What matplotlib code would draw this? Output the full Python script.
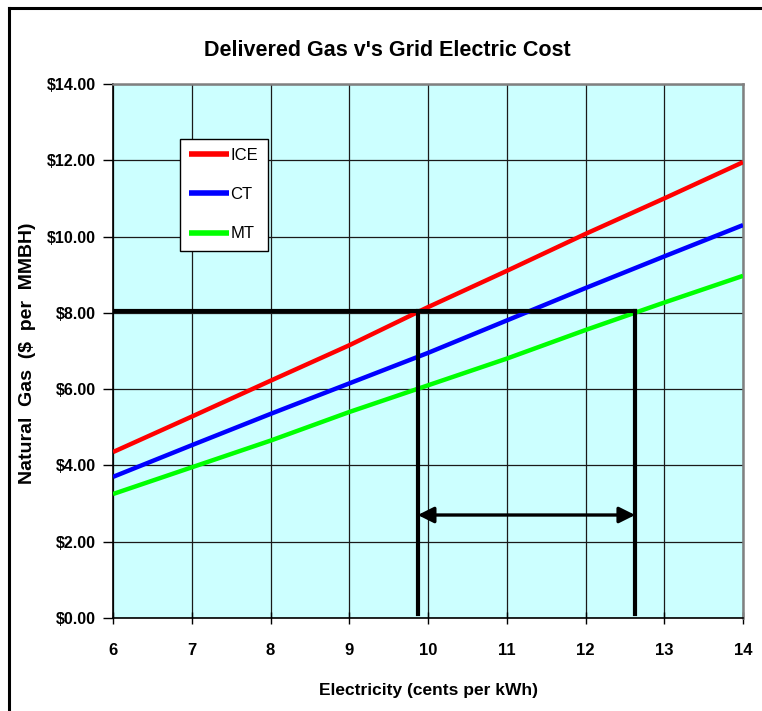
import matplotlib
matplotlib.use("Agg")
import matplotlib.pyplot as plt
from matplotlib.lines import Line2D

# electricity price (cents per kWh)
elec = [6, 7, 8, 9, 10, 11, 12, 13, 14]
# break-even natural gas price ($ per MMBH)
ice = [4.35, 5.28, 6.22, 7.15, 8.15, 9.10, 10.07, 11.00, 11.95]
ct = [3.70, 4.53, 5.35, 6.15, 6.95, 7.80, 8.65, 9.48, 10.30]
mt = [3.25, 3.95, 4.65, 5.40, 6.10, 6.80, 7.55, 8.27, 8.97]

# marked example: gas at $8.05, ICE vs MT break-even points
gas_mark = 8.05
elec_ice = 9.87
elec_mt = 12.63
arrow_y = 2.70

xticks = [6, 7, 8, 9, 10, 11, 12, 13, 14]
yticks = [0, 2, 4, 6, 8, 10, 12, 14]

plt.rcParams["font.family"] = ["Liberation Sans", "DejaVu Sans"]

fig = plt.figure(figsize=(7.62, 7.11), dpi=100)
ax = fig.add_axes([0.1483, 0.1308, 0.8268, 0.7511])
ax.set_facecolor("#CCFFFF")

ax.plot(elec, ice, color="#FF0000", lw=3.2, label="ICE", zorder=3, solid_capstyle="butt")
ax.plot(elec, ct, color="#0000FF", lw=3.2, label="CT", zorder=3, solid_capstyle="butt")
ax.plot(elec, mt, color="#00FF00", lw=3.2, label="MT", zorder=3, solid_capstyle="butt")

# black marker lines
ax.plot([6, elec_mt], [gas_mark, gas_mark], color="black", lw=3, zorder=4)
ax.plot([elec_ice, elec_ice], [0.1, gas_mark], color="black", lw=3, zorder=4)
ax.plot([elec_mt, elec_mt], [0.1, gas_mark], color="black", lw=3, zorder=4)
ax.annotate("", xy=(elec_mt, arrow_y), xytext=(elec_ice, arrow_y),
            arrowprops=dict(arrowstyle="<|-|>", color="black", lw=2.4,
                            mutation_scale=24, shrinkA=0, shrinkB=0), zorder=5)

ax.set_xlim(6, 14)
ax.set_ylim(0, 14)
ax.set_xticks(xticks)
ax.set_yticks(yticks)
ax.set_xticklabels([str(v) for v in xticks], fontsize=12, fontweight="bold")
ax.set_yticklabels(["${:.2f}".format(v) for v in yticks], fontsize=11.5, fontweight="bold")
ax.tick_params(axis="y", direction="out", length=7, width=1, pad=5)
ax.tick_params(axis="x", direction="inout", length=8, width=1, pad=14)
ax.grid(True, color="#1a1a1a", lw=0.9, zorder=1)
ax.set_axisbelow(True)

for side in ["left", "bottom"]:
    ax.spines[side].set_color("black")
    ax.spines[side].set_linewidth(1.2)
for side in ["top", "right"]:
    ax.spines[side].set_color("#808080")
    ax.spines[side].set_linewidth(1.8)

ax.set_xlabel("Electricity (cents per kWh)", fontsize=12.5, fontweight="bold", labelpad=18)
ax.set_ylabel("Natural  Gas  ($  per  MMBH)", fontsize=14, fontweight="bold")
ax.yaxis.set_label_coords(-0.122, 0.495)
fig.text(0.508, 0.929, "Delivered Gas v's Grid Electric Cost", fontsize=15.5,
         fontweight="bold", ha="center", va="center")

leg = ax.legend(loc="upper left", bbox_to_anchor=(0.106, 0.897), fontsize=12,
                handlelength=2.4, handletextpad=0.1, borderpad=0.55, labelspacing=1.45,
                borderaxespad=0, fancybox=False, framealpha=1, edgecolor="black")
leg.get_frame().set_linewidth(1.0)
for line in leg.get_lines():
    line.set_linewidth(4)

# outer chart border (left and top only visible)
fig.add_artist(Line2D([0.012, 0.012], [0.0, 0.989], color="black", lw=2.2, transform=fig.transFigure))
fig.add_artist(Line2D([0.012, 1.0], [0.989, 0.989], color="black", lw=2.2, transform=fig.transFigure))

fig.savefig("out.png", dpi=100)
